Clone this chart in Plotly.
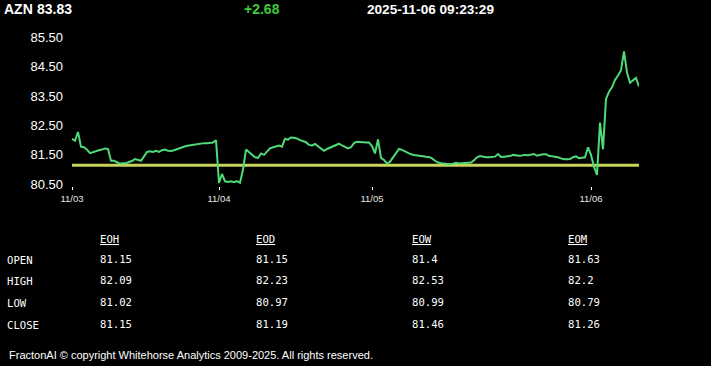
import plotly.graph_objects as go

# ---- data ----
symbol = "AZN"
last_price = 83.83
change = 2.68
timestamp = "2025-11-06 09:23:29"
prev_close = 81.15

price = [
    82.05, 81.98, 82.28, 81.78, 81.76, 81.68, 81.56, 81.60, 81.62, 81.66,
    81.68, 81.72, 81.70, 81.30, 81.30, 81.24, 81.20, 81.22, 81.22, 81.26,
    81.29, 81.36, 81.33, 81.30, 81.45, 81.60, 81.62, 81.60, 81.64, 81.60,
    81.66, 81.68, 81.64, 81.63, 81.66, 81.70, 81.74, 81.77, 81.80, 81.82,
    81.84, 81.86, 81.87, 81.88, 81.90, 81.90, 81.91, 81.92, 82.00, 80.55,
    80.85, 80.60, 80.58, 80.60, 80.57, 80.61, 80.55, 81.00, 81.68, 81.60,
    81.50, 81.42, 81.40, 81.55, 81.50, 81.60, 81.72, 81.76, 81.80, 81.82,
    81.78, 82.05, 82.02, 82.09, 82.08, 82.06, 82.00, 81.96, 81.93, 81.84,
    81.82, 81.87, 81.80, 81.70, 81.64, 81.70, 81.75, 81.80, 81.84, 81.88,
    81.82, 81.77, 81.72, 81.76, 81.90, 81.95, 81.95, 81.93, 81.92, 81.92,
    81.80, 81.55, 82.03, 81.40, 81.33, 81.20, 81.27, 81.40, 81.55, 81.70,
    81.67, 81.62, 81.56, 81.52, 81.50, 81.48, 81.47, 81.44, 81.44, 81.43,
    81.38, 81.30, 81.24, 81.22, 81.21, 81.19, 81.18, 81.20, 81.23, 81.21,
    81.22, 81.21, 81.22, 81.24, 81.32, 81.42, 81.46, 81.43, 81.42, 81.42,
    81.42, 81.44, 81.53, 81.43, 81.44, 81.44, 81.46, 81.50, 81.48, 81.47,
    81.48, 81.50, 81.49, 81.50, 81.53, 81.47, 81.50, 81.52, 81.52, 81.47,
    81.45, 81.44, 81.42, 81.38, 81.35, 81.35, 81.36, 81.42, 81.45, 81.39,
    81.40, 81.42, 81.76, 81.50, 81.10, 80.82, 82.60, 81.69, 83.40, 83.65,
    83.80, 84.05, 84.20, 84.38, 85.02, 84.30, 83.95, 84.04, 84.12, 83.83,
]
day_start_idx = [0, 49, 100, 173]
day_labels = ["11/03", "11/04", "11/05", "11/06"]
y_ticks = [80.5, 81.5, 82.5, 83.5, 84.5, 85.5]

row_labels = ["OPEN", "HIGH", "LOW", "CLOSE"]
col_headers = ["EOH", "EOD", "EOW", "EOM"]
eoh = [81.15, 82.09, 81.02, 81.15]
eod = [81.15, 82.23, 80.97, 81.19]
eow = [81.4, 82.53, 80.99, 81.46]
eom = [81.63, 82.2, 80.79, 81.26]
footer = "FractonAI \u00a9 copyright Whitehorse Analytics 2009-2025. All rights reserved."

# ---- layout helpers (pixel -> paper) ----
W, H = 711, 366
L, R, T, B = 72, 639, 30, 186


def px(x):
    return (x - L) / (R - L)


def py(y):
    return (B - y) / (B - T)


idx = list(range(len(price)))

fig = go.Figure()
fig.add_trace(go.Scatter(
    x=[idx[0], idx[-1]], y=[prev_close, prev_close], mode="lines",
    line=dict(color="#c9d35c", width=3), hoverinfo="skip", showlegend=False))
fig.add_trace(go.Scatter(
    x=idx, y=price, mode="lines",
    line=dict(color="#4fd979", width=2), showlegend=False))

ann = []
hdr_font = dict(family="Liberation Sans, Arial", size=14, color="white")
ann.append(dict(x=px(4), y=py(9), text=f"<b>{symbol}</b>", font=hdr_font))
ann.append(dict(x=px(37), y=py(9), text=f"<b>{last_price:.2f}</b>", font=hdr_font))
ann.append(dict(x=px(244), y=py(9), text=f"<b>{change:+.2f}</b>",
                font=dict(family="Liberation Sans, Arial", size=14, color="#3cc83c")))
ann.append(dict(x=px(367), y=py(9), text=f"<b>{timestamp}</b>",
                font=dict(family="Liberation Sans, Arial", size=13.6, color="white")))

mono = dict(family="DejaVu Sans Mono, Liberation Mono, monospace", size=10.6, color="white")
col_x = [100, 256, 412, 568]
row_y = [258.5, 280.3, 302.3, 324.3]
cols = [eoh, eod, eow, eom]
for cx, h in zip(col_x, col_headers):
    ann.append(dict(x=px(cx), y=py(238.5), text=f"<u>{h}</u>", font=mono))
for ry, lab in zip(row_y, row_labels):
    ann.append(dict(x=px(7), y=py(ry + 1), text=lab, font=mono))
for cx, vals in zip(col_x, cols):
    for ry, v in zip(row_y, vals):
        ann.append(dict(x=px(cx), y=py(ry), text=str(v), font=mono))

ann.append(dict(x=px(9), y=py(355), text=footer,
                font=dict(family="Liberation Sans, Arial", size=11, color="white")))

for a in ann:
    a.update(xref="paper", yref="paper", xanchor="left", yanchor="middle",
             showarrow=False, borderpad=0, borderwidth=0)

fig.update_layout(
    width=W, height=H,
    margin=dict(l=L, r=W - R, t=T, b=H - B, pad=0),
    paper_bgcolor="black", plot_bgcolor="black",
    annotations=ann,
    xaxis=dict(range=[idx[0], idx[-1]], tickvals=day_start_idx, ticktext=day_labels,
               showgrid=False, zeroline=False, showline=False,
               ticks="outside", ticklen=3, tickwidth=1, tickcolor="white",
               tickfont=dict(family="Liberation Sans, Arial", size=9.5, color="#e6e6e6"),
               ticklabelstandoff=1),
    yaxis=dict(range=[80.442, 85.748], tickvals=y_ticks,
               ticktext=[f"{v:.2f}" for v in y_ticks],
               showgrid=False, zeroline=False, showline=False, ticks="",
               tickfont=dict(family="Liberation Sans, Arial", size=13, color="white"),
               ticklabelstandoff=8),
    showlegend=False,
)

fig.write_html(
    "out.html",
    config={"displayModeBar": False},
    post_script="document.body.style.margin='0';document.body.style.background='black';"
                "document.body.style.overflow='hidden';",
)
